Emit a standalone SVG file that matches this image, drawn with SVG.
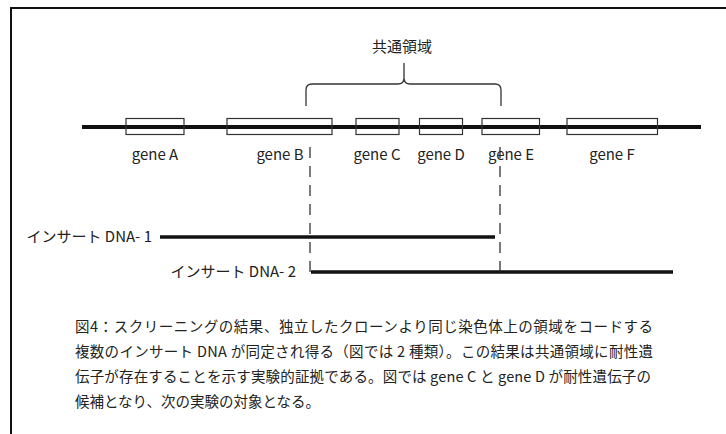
<svg xmlns="http://www.w3.org/2000/svg" width="726" height="434" viewBox="0 0 726 434">
<style>
  text { font-family: "Noto Sans CJK JP", "Liberation Sans", sans-serif; fill: #222; }
  .lbl { font-size: 15px; }
  .gene { font-size: 15px; text-anchor: middle; }
  .cap { font-size: 14.5px; }
  .box { fill: none; stroke: #333; stroke-width: 1.2; }
  .thick { stroke: #111; stroke-width: 4; fill: none; }
  .ins { stroke: #111; stroke-width: 3.5; fill: none; }
  .dash { stroke: #222; stroke-width: 1.2; stroke-dasharray: 11 8; fill: none; }
  .brace { stroke: #333; stroke-width: 1.3; fill: none; }
</style>
<rect x="11" y="8" width="740" height="450" fill="#fff" stroke="#111" stroke-width="2"/>

<g id="chromosome">
  <line class="thick" x1="82" y1="127" x2="701" y2="127"/>
</g>
<g id="geneA"><rect class="box" x="126" y="118.5" width="58" height="16"/><text class="gene" x="155" y="160">gene A</text></g>
<g id="geneB"><rect class="box" x="227" y="118.5" width="105" height="16"/><text class="gene" x="280" y="160">gene B</text></g>
<g id="geneC"><rect class="box" x="356" y="118.5" width="43" height="16"/><text class="gene" x="377" y="160">gene C</text></g>
<g id="geneD"><rect class="box" x="419.5" y="118.5" width="43" height="16"/><text class="gene" x="441" y="160">gene D</text></g>
<g id="geneE"><rect class="box" x="482" y="118.5" width="57.5" height="16"/><text class="gene" x="511" y="160">gene E</text></g>
<g id="geneF"><rect class="box" x="567" y="118.5" width="90.5" height="16"/><text class="gene" x="612" y="160">gene F</text></g>

<g id="common-region">
  <path class="brace" d="M306,106 V90 Q306,84 312,84 H398 Q404,84 404,78 V63 M404,78 Q404,84 410,84 H495 Q501,84 501,90 V106"/>
  <text class="lbl" x="402" y="52" text-anchor="middle">共通領域</text>
</g>

<g id="insert1">
  <text class="lbl" x="152" y="242" text-anchor="end">インサート DNA- 1</text>
  <line class="ins" x1="160" y1="237" x2="495" y2="237"/>
</g>
<g id="insert2">
  <text class="lbl" x="296" y="277" text-anchor="end">インサート DNA- 2</text>
  <line class="ins" x1="311" y1="272" x2="673" y2="272"/>
</g>

<g id="connectors">
  <line class="dash" x1="310" y1="272" x2="310" y2="140"/>
  <line class="dash" x1="500" y1="272" x2="500" y2="140"/>
</g>

<g id="caption">
  <text class="cap" x="75" y="332" textLength="578" lengthAdjust="spacing">図4：スクリーニングの結果、独立したクローンより同じ染色体上の領域をコードする</text>
  <text class="cap" x="75" y="357" textLength="578" lengthAdjust="spacing">複数のインサート DNA が同定され得る（図では 2 種類）。この結果は共通領域に耐性遺</text>
  <text class="cap" x="75" y="382" textLength="576" lengthAdjust="spacing">伝子が存在することを示す実験的証拠である。図では gene C と gene D が耐性遺伝子の</text>
  <text class="cap" x="75" y="407">候補となり、次の実験の対象となる。</text>
</g>
</svg>
